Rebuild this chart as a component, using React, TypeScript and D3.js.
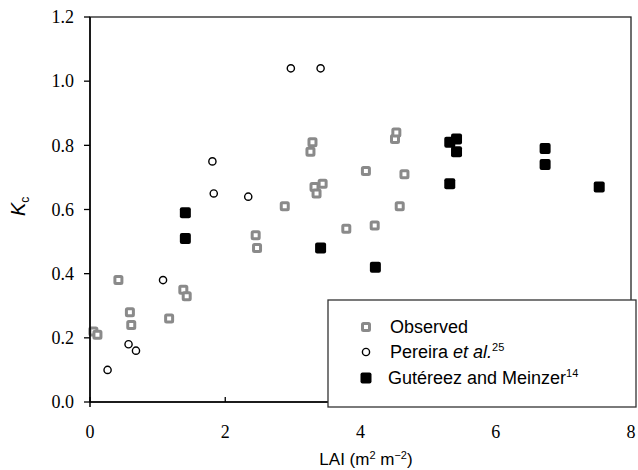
import * as d3 from "d3";

// LAI (x) and Kc (y)
const obsLai = [0.05, 0.11, 0.42, 0.59, 0.61, 1.17, 1.38, 1.43, 2.45, 2.47, 2.88, 3.26, 3.29, 3.32, 3.35, 3.44, 3.79, 4.08, 4.21, 4.51, 4.53, 4.58, 4.65];
const obsKc = [0.22, 0.21, 0.38, 0.28, 0.24, 0.26, 0.35, 0.33, 0.52, 0.48, 0.61, 0.78, 0.81, 0.67, 0.65, 0.68, 0.54, 0.72, 0.55, 0.82, 0.84, 0.61, 0.71];

const pereiraLai = [0.26, 0.57, 0.68, 1.08, 1.81, 1.83, 2.34, 2.97, 3.41];
const pereiraKc = [0.10, 0.18, 0.16, 0.38, 0.75, 0.65, 0.64, 1.04, 1.04];

const gutLai = [1.41, 1.41, 3.41, 4.22, 5.32, 5.32, 5.42, 5.42, 6.73, 6.73, 7.53];
const gutKc = [0.59, 0.51, 0.48, 0.42, 0.81, 0.68, 0.82, 0.78, 0.79, 0.74, 0.67];

const xTicks = [0, 2, 4, 6, 8];
const yTicks = [0, 0.2, 0.4, 0.6, 0.8, 1.0, 1.2];

const width = 638;
const height = 470;
const left = 90, right = 631, top = 17, bottom = 402;

const serif = "'Liberation Serif', 'Times New Roman', serif";
const sans = "'Liberation Sans', Arial, sans-serif";
const gray = "#8a8a8a";

export default function App() {
    const x = d3.scaleLinear([0, 8], [left, right]);
    const y = d3.scaleLinear([0, 1.2], [bottom, top]);

    const obs = obsLai.map((v, i) => [v, obsKc[i]]);
    const per = pereiraLai.map((v, i) => [v, pereiraKc[i]]);
    const gut = gutLai.map((v, i) => [v, gutKc[i]]);

    const lx = 366, rows = [327, 352, 378];

    return <svg width={width} height={height} viewBox={`0 0 ${width} ${height}`}
                style={{position: "absolute", left: 0, top: 0, background: "#fff"}}>
        {obs.map(([a, b], i) =>
            <rect key={"o" + i} x={x(a) - 3.5} y={y(b) - 3.5} width={7} height={7} rx={1}
                  fill="#fff" stroke={gray} strokeWidth={3}/>)}
        {per.map(([a, b], i) =>
            <circle key={"p" + i} cx={x(a)} cy={y(b)} r={3.6} fill="#fff" stroke="#000" strokeWidth={1.4}/>)}
        {gut.map(([a, b], i) =>
            <rect key={"g" + i} x={x(a) - 5.5} y={y(b) - 5.5} width={11} height={11} rx={2} fill="#000"/>)}

        {/* frame */}
        <rect x={left} y={top} width={right - left} height={bottom - top} fill="none" stroke="#222" strokeWidth={1.3}/>
        <line x1={left} x2={left} y1={top} y2={bottom + 5} stroke="#000" strokeWidth={1.5}/>
        <line x1={left} x2={right} y1={bottom} y2={bottom} stroke="#000" strokeWidth={1.5}/>

        {yTicks.map(t => <g key={"y" + t}>
            <line x1={left - 6} x2={left} y1={y(t)} y2={y(t)} stroke="#000" strokeWidth={1.3}/>
            <text x={74} y={y(t)} dy="0.35em" textAnchor="end" fontFamily={serif} fontSize={18}>{t.toFixed(1)}</text>
        </g>)}
        {xTicks.map(t => <g key={"x" + t}>
            <line x1={x(t)} x2={x(t)} y1={bottom - 5} y2={bottom} stroke="#000" strokeWidth={1.3}/>
            <text x={x(t)} y={438} textAnchor="middle" fontFamily={serif} fontSize={18}>{t}</text>
        </g>)}

        <text x={366} y={465} textAnchor="middle" fontFamily={sans} fontSize={17}>
            LAI (m<tspan fontSize={11} dy={-6}>2</tspan><tspan dy={6}> m</tspan><tspan fontSize={11} dy={-6}>−2</tspan><tspan dy={6}>)</tspan>
        </text>
        <text transform="translate(25,216) rotate(-90)" fontFamily={sans} fontSize={20}>
            <tspan fontStyle="italic">K</tspan><tspan fontSize={12} dy={4}>c</tspan>
        </text>

        {/* legend */}
        <rect x={328} y={300} width={308} height={107} fill="#fff" stroke="#333" strokeWidth={1.3}/>
        <rect x={lx - 3.5} y={rows[0] - 3.5} width={7} height={7} rx={1} fill="#fff" stroke={gray} strokeWidth={3}/>
        <circle cx={lx} cy={rows[1]} r={3.6} fill="#fff" stroke="#000" strokeWidth={1.4}/>
        <rect x={lx - 5.5} y={rows[2] - 5.5} width={11} height={11} rx={2} fill="#000"/>
        <text x={390} y={rows[0]} dy="0.35em" fontFamily={sans} fontSize={18}>Observed</text>
        <text x={390} y={rows[1]} dy="0.35em" fontFamily={sans} fontSize={18}>
            Pereira <tspan fontStyle="italic">et al.</tspan><tspan fontSize={11} dy={-7}>25</tspan>
        </text>
        <text x={388} y={rows[2]} dy="0.35em" fontFamily={sans} fontSize={18}>
            Gutéreez and Meinzer<tspan fontSize={11} dy={-7}>14</tspan>
        </text>
    </svg>;
}
